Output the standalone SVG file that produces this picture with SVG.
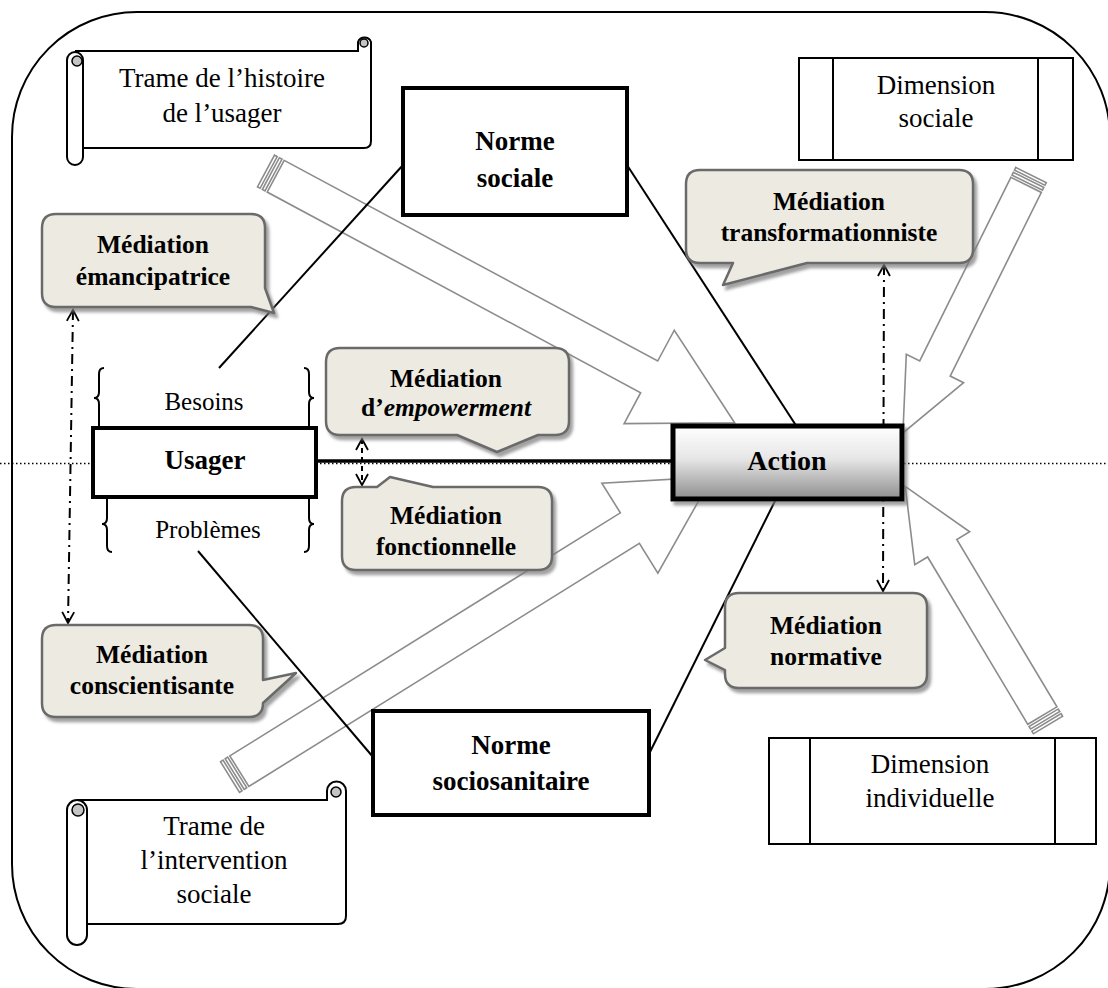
<svg xmlns="http://www.w3.org/2000/svg" width="1108" height="988" viewBox="0 0 1108 988">
<defs>
<style>
.t{font-family:"Liberation Serif","Times New Roman",serif;fill:#000;text-anchor:middle}
.reg{font-size:27px}
.b{font-weight:bold;font-size:25.5px}
.bb{font-weight:bold;font-size:27px}
.box{fill:#fff;stroke:#000;stroke-width:4}
.thin{fill:#fff;stroke:#000;stroke-width:2}
.call{fill:#ECEAE1;stroke:#6b6b6b;stroke-width:2.5;stroke-linejoin:round}
.arr{fill:#fff;stroke:#8c8c8c;stroke-width:1.6;stroke-linejoin:miter}
.ln{stroke:#000;stroke-width:2;fill:none}
.dd{stroke:#000;stroke-width:2;fill:none;stroke-dasharray:10 5 2 5}
.curl{fill:#c4c4c4;stroke:#000;stroke-width:1.5}
</style>
<filter id="sh" x="-10%" y="-10%" width="130%" height="140%">
<feDropShadow dx="3" dy="4" stdDeviation="1.5" flood-color="#7a7a7a" flood-opacity="0.7"/>
</filter>
<linearGradient id="ag" x1="0" y1="0" x2="0" y2="1">
<stop offset="0" stop-color="#ffffff"/>
<stop offset="0.45" stop-color="#e6e6e6"/>
<stop offset="1" stop-color="#8e8e8e"/>
</linearGradient>
<marker id="v" viewBox="0 0 14 14" refX="12" refY="7" markerWidth="14" markerHeight="14" orient="auto-start-reverse" markerUnits="userSpaceOnUse">
<path d="M1,1 L12,7 L1,13" fill="none" stroke="#000" stroke-width="1.8"/>
</marker>
</defs>

<rect x="12" y="12" width="1098" height="977" rx="125" ry="125" fill="#fff" stroke="#000" stroke-width="2"/>
<line x1="0" y1="463.5" x2="1108" y2="463.5" stroke="#000" stroke-width="1.5" stroke-dasharray="1.5 2.5"/>

<g id="connectors">
<g transform="translate(266,171) rotate(28.25)">
<rect x="0" y="-18" width="3" height="36" class="arr"/>
<rect x="5.5" y="-18" width="3" height="36" class="arr"/>
<path class="arr" d="M11,-18 H435 V-53 L532,0 L435,53 V18 H11 Z"/>
</g>
<g transform="translate(230,777) rotate(-31.9)">
<rect x="0" y="-18" width="3" height="36" class="arr"/>
<rect x="5.5" y="-18" width="3" height="36" class="arr"/>
<path class="arr" d="M11,-18 H471 V-53 L568,0 L471,53 V18 H11 Z"/>
</g>
<g transform="translate(1031,175) rotate(116.4)">
<rect x="0" y="-17" width="3" height="34" class="arr"/>
<rect x="5.5" y="-17" width="3" height="34" class="arr"/>
<path class="arr" d="M11,-17 H216 V-32 L288,0 L216,32 V17 H11 Z"/>
</g>
<g transform="translate(1048,725) rotate(-120.9)">
<rect x="0" y="-17" width="3" height="34" class="arr"/>
<rect x="5.5" y="-17" width="3" height="34" class="arr"/>
<path class="arr" d="M11,-17 H206 V-32 L278,0 L206,32 V17 H11 Z"/>
</g>
<line class="ln" x1="219" y1="368" x2="403" y2="165"/>
<line class="ln" x1="627" y1="165" x2="797" y2="427"/>
<line class="ln" x1="198" y1="551" x2="373" y2="757"/>
<line class="ln" x1="776" y1="499" x2="650" y2="752"/>
<line x1="316" y1="461" x2="673" y2="461" stroke="#000" stroke-width="3.5"/>
<line class="dd" x1="73" y1="310" x2="68" y2="623" marker-start="url(#v)" marker-end="url(#v)"/>
<line x1="362" y1="439" x2="362" y2="485" stroke="#000" stroke-width="2" stroke-dasharray="5 4" marker-start="url(#v)" marker-end="url(#v)"/>
<line class="dd" x1="884" y1="265" x2="883" y2="591" marker-start="url(#v)" marker-end="url(#v)"/>
</g>

<g id="trame-histoire">
<path class="thin" d="M75,51 H358 V42 A7,7 0 0 1 371,42 V141 Q371,148 364,148 H83"/>
<circle class="curl" cx="364" cy="43" r="4"/>
<rect class="thin" x="67" y="52" width="16" height="113" rx="8"/>
<circle class="curl" cx="77" cy="61" r="5"/>
<text class="t reg" x="222" y="87">Trame de l’histoire</text>
<text class="t reg" x="222" y="122">de l’usager</text>
</g>

<g id="trame-intervention">
<path class="thin" d="M77,800 H327 V791 A9,9 0 0 1 346,791 V916 Q346,924 338,924 H87"/>
<circle class="curl" cx="336" cy="792" r="5"/>
<rect class="thin" x="67" y="800" width="20" height="145" rx="10"/>
<circle class="curl" cx="78" cy="810" r="6"/>
<text class="t reg" x="214" y="835">Trame de</text>
<text class="t reg" x="214" y="869">l’intervention</text>
<text class="t reg" x="214" y="903">sociale</text>
</g>

<g id="dimension-sociale">
<rect class="thin" x="799" y="58" width="274" height="102"/>
<line class="ln" x1="833" y1="58" x2="833" y2="160"/>
<line class="ln" x1="1038" y1="58" x2="1038" y2="160"/>
<text class="t reg" x="936" y="94">Dimension</text>
<text class="t reg" x="936" y="127">sociale</text>
</g>

<g id="dimension-individuelle">
<rect class="thin" x="769" y="738" width="327" height="106"/>
<line class="ln" x1="810" y1="738" x2="810" y2="844"/>
<line class="ln" x1="1055" y1="738" x2="1055" y2="844"/>
<text class="t reg" x="930" y="773">Dimension</text>
<text class="t reg" x="930" y="807">individuelle</text>
</g>

<g id="norme-sociale">
<rect class="box" x="403" y="88" width="224" height="127"/>
<text class="t bb" x="515" y="150">Norme</text>
<text class="t bb" x="515" y="187">sociale</text>
</g>

<g id="norme-sociosanitaire">
<rect class="box" x="373" y="711" width="276" height="104"/>
<text class="t bb" x="511" y="754">Norme</text>
<text class="t bb" x="511" y="790">sociosanitaire</text>
</g>

<g id="usager">
<path class="ln" d="M104,368 Q99,368 99,374 V392 Q99,398 94,398 Q99,398 99,404 V428"/>
<path class="ln" d="M304,368 Q309,368 309,374 V392 Q309,398 314,398 Q309,398 309,404 V428"/>
<text class="t" style="font-size:25px" x="204" y="410">Besoins</text>
<rect class="box" x="93" y="428" width="223" height="69"/>
<text class="t bb" x="205" y="469">Usager</text>
<path class="ln" d="M107,498 V518 Q107,524 102,524 Q107,524 107,530 V546 Q107,552 112,552"/>
<path class="ln" d="M309,498 V518 Q309,524 314,524 Q309,524 309,530 V546 Q309,552 304,552"/>
<text class="t" style="font-size:25px" x="208" y="538">Problèmes</text>
</g>

<g id="action">
<rect x="673" y="426" width="229" height="73" fill="url(#ag)" stroke="#000" stroke-width="5" filter="url(#sh)"/>
<text class="t" style="font-weight:bold;font-size:28px" x="787" y="470">Action</text>
</g>

<g id="med-emancipatrice">
<path class="call" filter="url(#sh)" d="M56,214 H251 Q265,214 265,228 V288 L274,313 L251,307 H56 Q42,307 42,293 V228 Q42,214 56,214 Z"/>
<text class="t b" x="153" y="253">Médiation</text>
<text class="t b" x="153" y="285">émancipatrice</text>
</g>

<g id="med-empowerment">
<path class="call" filter="url(#sh)" d="M340,348 H555 Q569,348 569,362 V421 Q569,435 555,435 H538 L497,452 L457,435 H340 Q326,435 326,421 V362 Q326,348 340,348 Z"/>
<text class="t b" x="446" y="387">Médiation</text>
<text class="t b" x="446" y="416">d’<tspan font-style="italic">empowerment</tspan></text>
</g>

<g id="med-fonctionnelle">
<path class="call" filter="url(#sh)" d="M356,487 H377 L390,477 L433,487 H538 Q552,487 552,501 V556 Q552,570 538,570 H356 Q342,570 342,556 V501 Q342,487 356,487 Z"/>
<text class="t b" x="446" y="524">Médiation</text>
<text class="t b" x="446" y="555">fonctionnelle</text>
</g>

<g id="med-conscientisante">
<path class="call" filter="url(#sh)" d="M56,625 H249 Q263,625 263,639 V680 L296,673 L263,703 Q263,717 249,717 H56 Q42,717 42,703 V639 Q42,625 56,625 Z"/>
<text class="t b" x="152" y="663">Médiation</text>
<text class="t b" x="152" y="694">conscientisante</text>
</g>

<g id="med-transformationniste">
<path class="call" filter="url(#sh)" d="M700,170 H959 Q973,170 973,184 V249 Q973,263 959,263 H807 L723,285 L733,263 H700 Q686,263 686,249 V184 Q686,170 700,170 Z"/>
<text class="t b" x="829" y="210">Médiation</text>
<text class="t b" x="829" y="241">transformationniste</text>
</g>

<g id="med-normative">
<path class="call" filter="url(#sh)" d="M739,593 H913 Q927,593 927,607 V674 Q927,688 913,688 H739 Q725,688 725,674 V670 L705,660 L725,648 V607 Q725,593 739,593 Z"/>
<text class="t b" x="826" y="634">Médiation</text>
<text class="t b" x="826" y="665">normative</text>
</g>
</svg>
